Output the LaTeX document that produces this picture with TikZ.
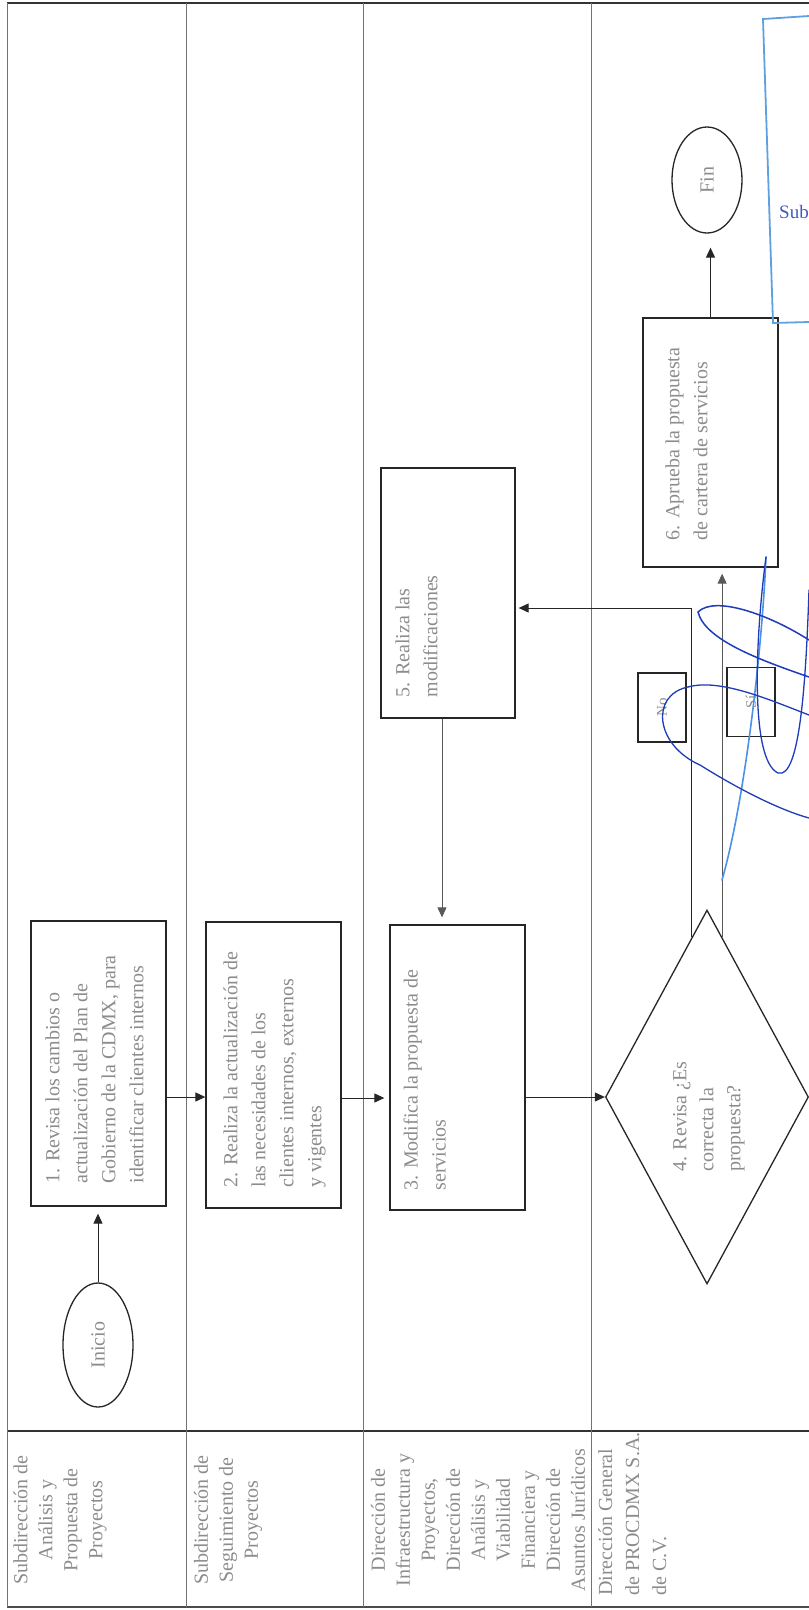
\documentclass[tikz,border=0pt]{standalone}
\usepackage{fontspec}
\setmainfont{Liberation Serif}
\usepackage{tikz}
\usetikzlibrary{arrows.meta,positioning,shapes.geometric,calc}
\definecolor{Ink}{RGB}{140,140,140}
\definecolor{Pen}{RGB}{30,60,185}
\definecolor{PenLight}{RGB}{75,145,230}
\definecolor{Stamp}{RGB}{95,160,225}

\begin{document}
\begin{tikzpicture}[x=1pt,y=-1pt,
    box/.style={draw=black!85, line width=1.3pt, minimum width=135pt, inner sep=0pt},
    decision/.style={diamond, draw=black!85, line width=1.3pt, minimum width=203pt, minimum height=374pt, inner sep=0pt},
    terminal/.style={ellipse, draw=black!85, line width=1.3pt, minimum height=70pt, inner sep=0pt, rotate=90, text=Ink, font=\fontsize{20}{24}\selectfont},
    tag/.style={draw=black!85, line width=1.2pt, rotate=90, minimum width=69pt, minimum height=48pt, inner sep=0pt, text=Ink, font=\fontsize{15}{18}\selectfont},
    txt/.style={rotate=90, text=Ink, font=\fontsize{20}{28}\selectfont, align=left, inner sep=0pt},
    lanetxt/.style={rotate=90, text=Ink, font=\fontsize{20}{25}\selectfont, align=center, inner sep=0pt},
    flow/.style={draw=black!85, line width=1pt, -{Triangle[length=10pt,width=9pt]}},
    lane/.style={black!55, line width=0.8pt},
    pen/.style={Pen, line width=1.3pt, line cap=round}]
  \useasboundingbox (0,0) rectangle (809,1610);

  % marco y carriles
  \draw[line width=1.5pt, black!80] (7,3) -- (809,3);
  \draw[line width=1.5pt, black!80] (7,1431) -- (809,1431);
  \draw[line width=1.2pt, black!70] (7,1607) -- (809,1607);
  \draw[lane] (7,3) -- (7,1607);
  \foreach \x in {186,363,591}
    \draw[lane] (\x,3) -- (\x,1607);

  % responsables
  \node[lanetxt] (l1) at (60,1520) {Subdirección de\\Análisis y\\Propuesta de\\Proyectos};
  \node[lanetxt] (l2) at (228,1520) {Subdirección de\\Seguimiento de\\Proyectos};
  \node[lanetxt] (l3) at (478,1520) {Dirección de\\Infraestructura y\\Proyectos,\\Dirección de\\Análisis y\\Viabilidad\\Financiera y\\Dirección de\\Asuntos Jurídicos};
  \node[lanetxt, align=left, anchor=north west, font=\fontsize{20}{27}\selectfont] (l4) at (598,1596) {Dirección General\\de PROCDMX S.A.\\de C.V.};

  % actividades
  \node[terminal, minimum width=124pt] (ini) at (98,1345) {Inicio};
  \node[box, minimum height=285pt] (b1) at (98.5,1063.5) {};
  \node[box, minimum height=286pt] (b2) at (273.5,1065) {};
  \node[box, minimum height=285pt] (b3) at (457.5,1067.5) {};
  \node[decision] (d4) at (707,1097) {};
  \node[box, minimum height=250pt, minimum width=134pt] (b5) at (448,593) {};
  \node[box, minimum height=249pt] (b6) at (710.5,442.5) {};
  \node[terminal, minimum width=106pt] (fin) at (707,180) {Fin};

  \node[txt, anchor=north west] (t1) at ($(b1.south west)+(15,-23)$) {1. Revisa los cambios o\\actualización del Plan de\\Gobierno de la CDMX, para\\identificar clientes internos};
  \node[txt, anchor=north west] (t2) at ($(b2.south west)+(18,-21)$) {2. Realiza la actualización de\\las necesidades de los\\clientes internos, externos\\y vigentes};
  \node[txt, anchor=north west] (t3) at ($(b3.south west)+(14,-20)$) {3. Modifica la propuesta de\\servicios};
  \node[txt, anchor=north west, font=\fontsize{20}{27}\selectfont] (t4) at ($(d4)+(-34,75)$) {4. Revisa ¿Es\\correcta la\\propuesta?};
  \node[txt, anchor=north west] (t5) at ($(b5.south west)+(15,-21)$) {5. Realiza las\\modificaciones};
  \node[txt, anchor=north west] (t6) at ($(b6.south west)+(23,-27)$) {6. Aprueba la propuesta\\de cartera de servicios};

  \node[tag] (no) at (662,707.5) {No};
  \node[tag] (si) at (751,702) {Sí};

  % flujo
  \coordinate (row) at (0,1097);
  \coordinate (dno) at ($(d4.north)!0.148!(d4.west)$);
  \coordinate (dsi) at ($(d4.north)!0.148!(d4.east)$);
  \draw[flow, shorten >=7pt] (ini.east) -- (ini.east |- b1.south);
  \draw[flow] (b1.east |- row) -- (b2.west |- row);
  \draw[flow, shorten >=5pt] ($(b2.east |- row)+(0,1)$) -- ($(b3.west |- row)+(0,1)$);
  \draw[flow] (b3.east |- d4) -- (d4.west);
  \draw[flow, shorten >=3pt] (dno) |- ($(b5.east)+(0,15)$);
  \draw[flow, draw=black!65, shorten >=6pt] (dsi) -- (dsi |- b6.south);
  \draw[flow, draw=black!65, shorten >=7pt] ([xshift=-6pt]b5.south) -- ([xshift=-6pt]b5.south |- b3.north);
  \draw[flow, shorten >=14pt] (b6.north) -- (b6.north |- fin.west);

  % sello
  \draw[Stamp, line width=1.8pt] (809,16) -- (763,19) -- (773,323) -- (809,322);
  \node[text=Pen!85, font=\fontsize{19}{22}\selectfont, anchor=base west, inner sep=0pt] (sello) at (779,218) {Sub};

  % firma
  \draw[pen, PenLight, line width=1.6pt] (722,880) .. controls (745,800) and (762,650) .. (766,557);
  \draw[pen] (766,557) .. controls (755,640) and (750,760) .. (778,773) .. controls (800,780) and (806,680) .. (809,590);
  \draw[pen, line width=1.5pt] (698,612) .. controls (715,595) and (770,615) .. (809,640);
  \draw[pen, line width=1.5pt] (698,612) .. controls (705,640) and (760,660) .. (809,677);
  \draw[pen] (688,687) .. controls (720,678) and (770,700) .. (809,715);
  \draw[pen] (688,687) .. controls (650,695) and (655,745) .. (700,765) .. controls (740,790) and (780,810) .. (809,818);
\end{tikzpicture}
\end{document}
